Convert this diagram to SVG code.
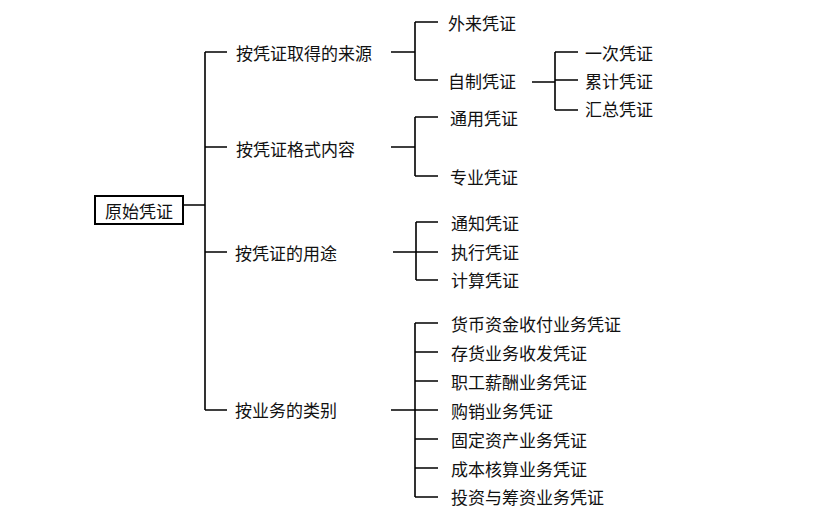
<svg xmlns="http://www.w3.org/2000/svg" width="818" height="507" viewBox="0 0 818 507">
<style>
text{font-family:"Noto Sans CJK SC","Noto Sans",sans-serif;font-size:17px;fill:#111;dominant-baseline:central}
.c{fill:none;stroke:#000;stroke-width:1.6}
.box{fill:#fff;stroke:#000;stroke-width:2}
</style>
<rect width="818" height="507" fill="#fff"/>
<g id="connectors" class="c">
<path d="M183,205H205M205,52V410M205,52H227M205,147H227M205,252H227M205,410H227"/>
<path d="M391,52H415M415,22V80M415,22H438M415,80H438"/>
<path d="M532,82H555M555,52V110M555,52H578M555,80H578M555,110H578"/>
<path d="M391,147H415M415,117V176M415,117H438M415,176H438"/>
<path d="M393,252H438M416,222V280M416,222H438M416,280H438"/>
<path d="M391,410H438M415,323V497M415,323H438M415,352H438M415,381H438M415,439H438M415,468H438M415,497H438"/>
</g>
<g id="root"><rect class="box" x="95" y="196" width="88" height="28"/><text x="105" y="210">原始凭证</text></g>
<g id="n-source"><text x="236" y="52">按凭证取得的来源</text></g>
<g id="n-format"><text x="236" y="148">按凭证格式内容</text></g>
<g id="n-use"><text x="235" y="252">按凭证的用途</text></g>
<g id="n-type"><text x="235" y="409">按业务的类别</text></g>
<g id="n-wailai"><text x="448" y="22">外来凭证</text></g>
<g id="n-zizhi"><text x="448" y="80">自制凭证</text></g>
<g id="n-yici"><text x="585" y="52">一次凭证</text></g>
<g id="n-leiji"><text x="585" y="80">累计凭证</text></g>
<g id="n-huizong"><text x="585" y="108">汇总凭证</text></g>
<g id="n-tongyong"><text x="450" y="117">通用凭证</text></g>
<g id="n-zhuanye"><text x="450" y="176">专业凭证</text></g>
<g id="n-tongzhi"><text x="451" y="222">通知凭证</text></g>
<g id="n-zhixing"><text x="451" y="251">执行凭证</text></g>
<g id="n-jisuan"><text x="451" y="279">计算凭证</text></g>
<g id="n-t1"><text x="451" y="323">货币资金收付业务凭证</text></g>
<g id="n-t2"><text x="451" y="352">存货业务收发凭证</text></g>
<g id="n-t3"><text x="451" y="381">职工薪酬业务凭证</text></g>
<g id="n-t4"><text x="451" y="410">购销业务凭证</text></g>
<g id="n-t5"><text x="451" y="439">固定资产业务凭证</text></g>
<g id="n-t6"><text x="451" y="468">成本核算业务凭证</text></g>
<g id="n-t7"><text x="451" y="496">投资与筹资业务凭证</text></g>
</svg>
